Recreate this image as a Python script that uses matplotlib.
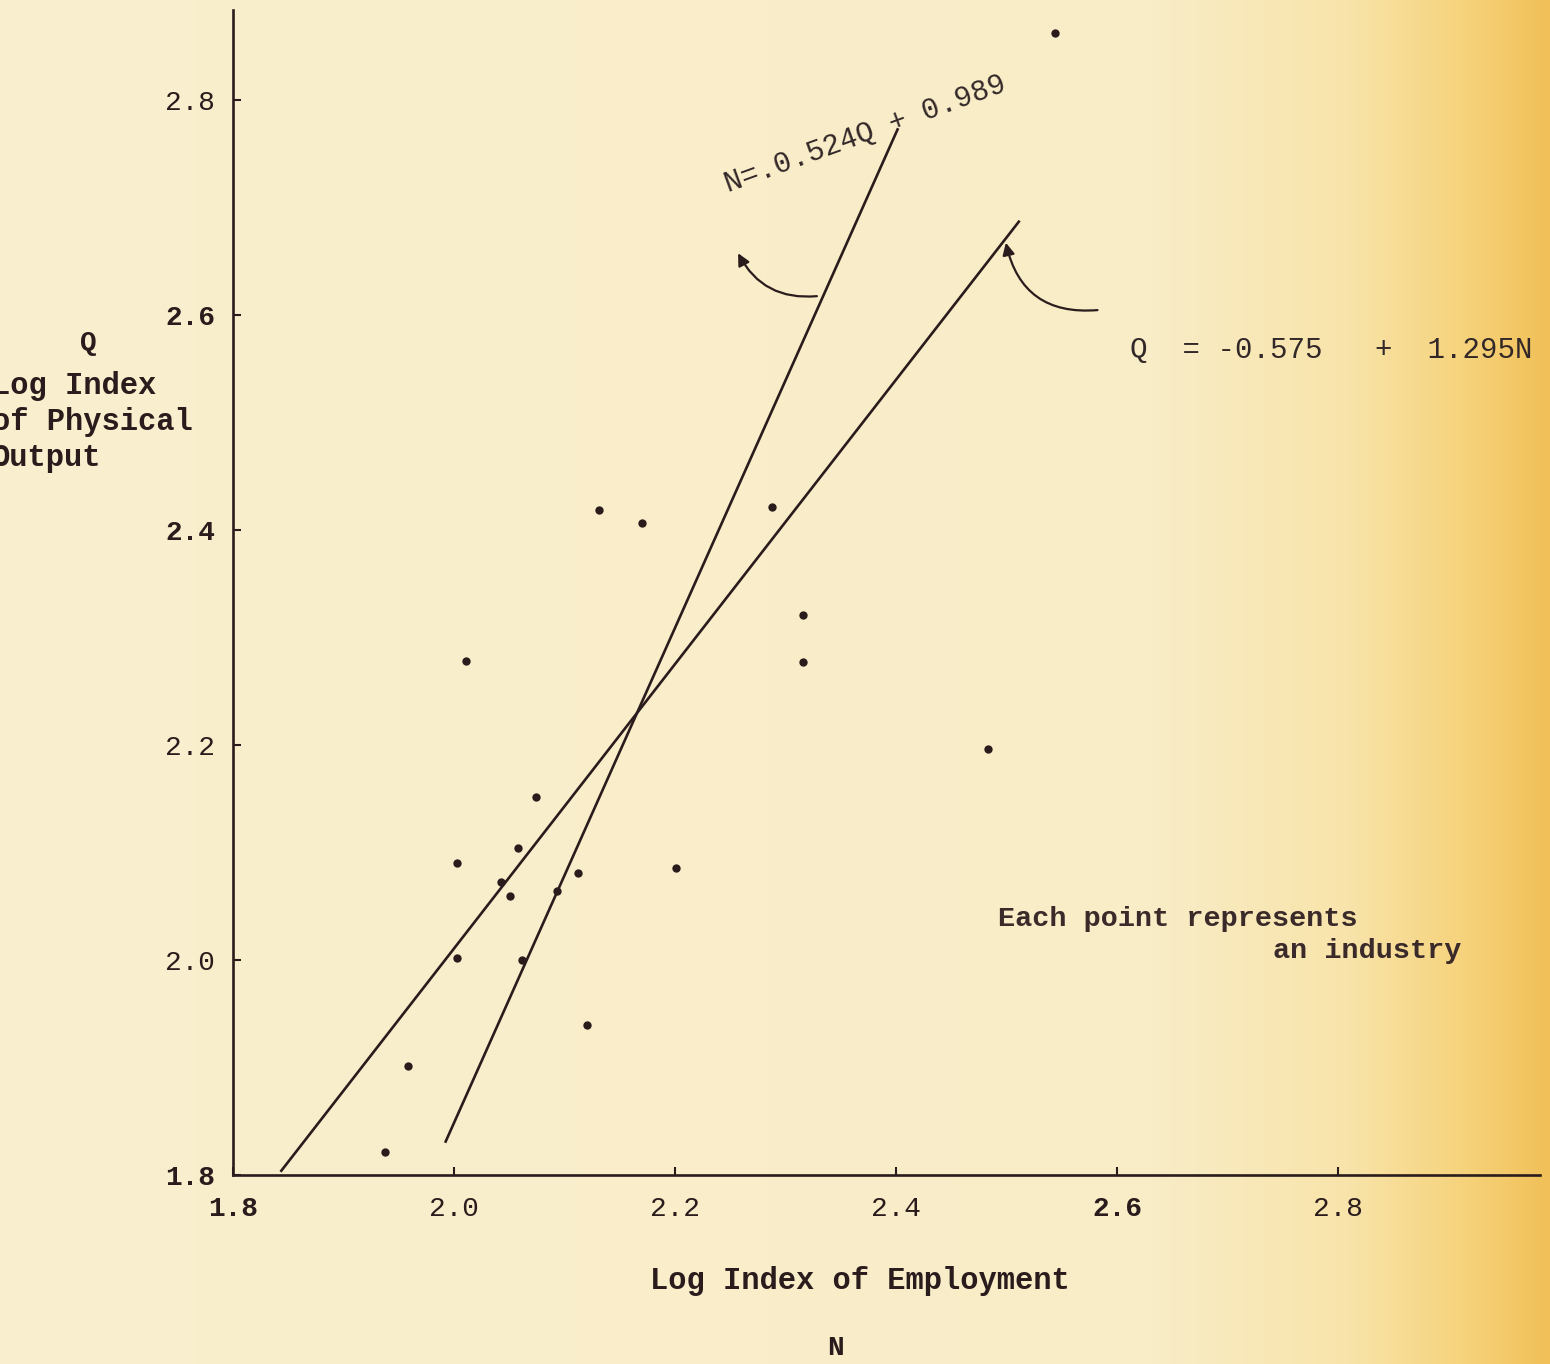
import numpy as np
import matplotlib
matplotlib.use("Agg")
import matplotlib.pyplot as plt
from matplotlib.patches import FancyArrowPatch

plt.rcParams['font.family'] = ['Liberation Mono', 'DejaVu Sans Mono']

# log index of employment (N) and of physical output (Q), one point per industry
employment = [2.544, 2.131, 2.170, 2.288, 2.316, 2.316, 2.011, 2.483, 2.074, 2.058, 2.003,
              2.043, 2.051, 2.112, 2.093, 2.201, 2.003, 2.062, 2.120, 1.958, 1.938]
output = [2.863, 2.419, 2.407, 2.422, 2.321, 2.277, 2.278, 2.196, 2.152, 2.104, 2.090,
          2.073, 2.060, 2.081, 2.064, 2.086, 2.002, 2.000, 1.940, 1.901, 1.821]

# fitted lines as drawn (end points)
q_on_n_x = [1.843, 2.512]
q_on_n_y = [1.803, 2.688]
n_on_q_x = [1.992, 2.402]
n_on_q_y = [1.830, 2.774]

ticks = [1.8, 2.0, 2.2, 2.4, 2.6, 2.8]
tick_labels = ["1.8", "2.0", "2.2", "2.4", "2.6", "2.8"]

ink = "#2a1c1c"
W, H = 1550, 1364

fig = plt.figure(figsize=(W / 100, H / 100), dpi=100)
fig.patch.set_facecolor("#f9eecb")

# paper background, yellowing towards the right edge
bg = fig.add_axes([0, 0, 1, 1], zorder=-5)
xs = np.linspace(0, W, 400)
stops = [0, 1150, 1350, 1470, 1550]
cols = np.array([[249, 239, 206], [249, 237, 200], [248, 228, 170], [246, 210, 122], [241, 192, 88]])
row = np.stack([np.interp(xs, stops, cols[:, k]) for k in range(3)], axis=1) / 255.0
grad = np.repeat(row[None, :, :], 10, axis=0)
bg.imshow(grad, aspect="auto", extent=[0, 1, 0, 1])
bg.axis("off")

ax = fig.add_axes([233 / W, (H - 1175) / H, 1307 / W, 1165 / H])
ax.set_facecolor("none")
ax.set_xlim(1.8, 2.983)
ax.set_ylim(1.8, 2.884)

for s in ["top", "right"]:
    ax.spines[s].set_visible(False)
for s in ["left", "bottom"]:
    ax.spines[s].set_color(ink)
    ax.spines[s].set_linewidth(1.9)

ax.set_xticks(ticks)
ax.set_yticks(ticks)
ax.set_xticklabels(tick_labels)
ax.set_yticklabels(tick_labels)
ax.tick_params(axis="both", direction="in", length=6, width=1.5, color=ink,
               labelcolor=ink, labelsize=20)
ax.tick_params(axis="x", pad=15)
ax.tick_params(axis="y", pad=13)
x_bold = [True, False, False, False, True, False]
y_bold = [True, False, False, True, True, False]
for lab, b in zip(ax.get_xticklabels(), x_bold):
    lab.set_fontweight("bold" if b else "normal")
for lab, b in zip(ax.get_yticklabels(), y_bold):
    lab.set_fontweight("bold" if b else "normal")

ax.plot(q_on_n_x, q_on_n_y, color=ink, lw=1.9, solid_capstyle="butt")
ax.plot(n_on_q_x, n_on_q_y, color=ink, lw=1.9, solid_capstyle="butt")
ax.plot(employment, output, "o", color=ink, markersize=6, markeredgewidth=0, clip_on=False)

# equations with hand drawn arrows
ax.text(2.248, 2.714, "N=.0.524Q + 0.989", rotation=20, rotation_mode="anchor",
        ha="left", va="baseline", fontsize=21, color="#332828")
ax.text(2.612, 2.560, "Q  = -0.575   +  1.295N", ha="left", va="baseline",
        fontsize=21, color="#332828")

arr1 = FancyArrowPatch((2.331, 2.618), (2.256, 2.660), connectionstyle="arc3,rad=-0.35",
                       arrowstyle="-|>", mutation_scale=18, color=ink, lw=1.6)
arr2 = FancyArrowPatch((2.585, 2.605), (2.499, 2.670), connectionstyle="arc3,rad=-0.45",
                       arrowstyle="-|>", mutation_scale=18, color=ink, lw=1.6)
ax.add_patch(arr1)
ax.add_patch(arr2)

ax.text(2.492, 2.032, "Each point represents", ha="left", va="baseline",
        fontsize=20.5, fontweight="bold", color="#3a2a2a")
ax.text(2.741, 2.002, "an industry", ha="left", va="baseline",
        fontsize=20.5, fontweight="bold", color="#3a2a2a")

# axis titles, typed on the sheet (left edge of the sheet cuts the first letters)
fig.text(88 / W, 1 - 343 / H, "Q", ha="center", va="center", fontsize=20,
         fontweight="bold", color=ink)
fig.text(-8 / W, 1 - 422 / H, "Log Index\nof Physical\nOutput", ha="left", va="center",
         fontsize=22, fontweight="bold", color=ink, linespacing=1.25)
fig.text(860 / W, 1 - 1281 / H, "Log Index of Employment", ha="center", va="center",
         fontsize=22, fontweight="bold", color=ink)
fig.text(835 / W, 1 - 1348 / H, "N", ha="center", va="center", fontsize=20,
         fontweight="bold", color=ink)

fig.savefig("out.png", dpi=100, facecolor=fig.get_facecolor())
